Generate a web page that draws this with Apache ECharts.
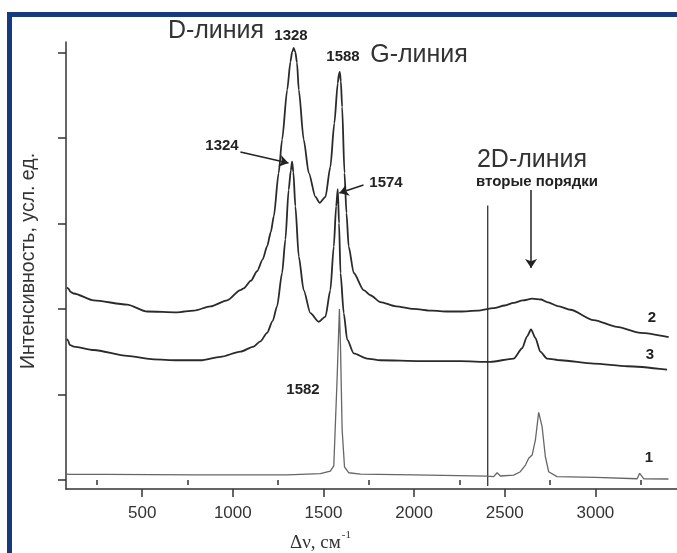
<!DOCTYPE html>
<html>
<head>
<meta charset="utf-8">
<script src="https://cdn.jsdelivr.net/npm/echarts@6/dist/echarts.min.js"></script>
<style>
html,body{margin:0;padding:0;background:#fff;}
#chart{width:677px;height:553px;}
</style>
</head>
<body>
<div id="chart"></div>
<script>
// ---- data (Raman shift, cm^-1 ; intensity, arb. units) ----
const shift1 = [85,90,100,300,800,1300,1483,1538,1557,1575,1588,1594,1603,1616,1639,1704,2000,2400,2439,2458,2476,2549,2586,2614,2632,2651,2669,2687,2706,2724,2742,2788,3000,3230,3244,3266,3403];
const intensity1 = [0.07,0.09,0.065,0.065,0.06,0.06,0.075,0.105,0.165,1.17,2.0,1.56,0.59,0.155,0.085,0.07,0.06,0.045,0.04,0.085,0.047,0.058,0.097,0.175,0.254,0.292,0.468,0.79,0.623,0.272,0.097,0.04,0.03,0.015,0.078,0.015,0.012];

const shift2 = [85,92,105,123,233,417,528,693,785,877,969,1042,1060,1100,1134,1165,1189,1210,1226,1253,1272,1300,1318,1327,1336,1345,1354,1364,1391,1419,1456,1479,1511,1538,1560,1579,1585,1590,1596,1603,1616,1627,1639,1667,1722,1759,1814,1900,1996,2100,2184,2255,2350,2439,2500,2549,2600,2651,2700,2733,2800,2862,2990,3119,3248,3404];
const intensity2 = [2.25,2.24,2.20,2.18,2.10,2.05,1.97,1.96,1.98,2.03,2.10,2.22,2.24,2.33,2.44,2.58,2.73,2.90,3.08,3.59,3.98,4.56,4.89,5.00,5.05,5.00,4.88,4.56,3.98,3.59,3.31,3.24,3.31,3.66,4.17,4.64,4.74,4.77,4.66,4.36,3.59,3.12,2.73,2.42,2.22,2.16,2.08,2.03,2.00,1.98,1.97,1.97,1.98,2.01,2.04,2.07,2.10,2.12,2.11,2.08,2.03,1.99,1.87,1.79,1.72,1.67];

const shift3 = [85,92,100,123,233,417,564,693,822,932,1042,1115,1152,1189,1220,1244,1272,1290,1308,1320,1327,1334,1345,1364,1391,1428,1474,1511,1538,1557,1570,1579,1586,1594,1612,1631,1667,1741,1814,2035,2255,2420,2549,2596,2623,2645,2669,2696,2733,2808,2990,3175,3395];
const intensity3 = [1.65,1.63,1.58,1.56,1.52,1.45,1.41,1.40,1.40,1.44,1.50,1.56,1.62,1.72,1.86,2.03,2.42,2.81,3.39,3.62,3.72,3.60,3.20,2.61,2.22,1.95,1.85,1.91,2.22,2.73,3.20,3.40,3.00,2.42,1.95,1.64,1.48,1.42,1.40,1.39,1.39,1.38,1.42,1.54,1.68,1.76,1.66,1.50,1.42,1.40,1.36,1.33,1.29];

const separatorShift = 2406;
const separatorRange = [-0.07, 3.21];

const xMajorValues = [500,1000,1500,2000,2500,3000];
const xMinorValues = [250,750,1250,1750,2250,2750,3250];
const yTickValues = [0,1,2,3,4,5];

function pairs(xs, ys){ return xs.map((x,i)=>[x, ys[i]]); }

const chart = echarts.init(document.getElementById('chart'), null, {renderer:'canvas'});
const axisColor = '#333';
const txt = (x, y, text, size, bold, extra) => Object.assign({
  type: 'text', x: x, y: y,
  style: {text: text, fontFamily: 'Liberation Sans, Arial', fontSize: size, fontWeight: bold ? 'bold' : 'normal',
          fill: bold ? '#222' : '#333', align: 'center', verticalAlign: 'middle'}
}, extra || {});
const option = {
  animation: false,
  backgroundColor: '#fff',
  grid: {left: 66, right: 0, top: 42, bottom: 64, containLabel: false},
  xAxis: [{
    type: 'value', min: 80, max: 3450,
    axisLine: {show: true, onZero: false, lineStyle: {color: axisColor, width: 1.5}},
    axisTick: {show: true, customValues: xMajorValues, length: 8, inside: false, lineStyle: {color: axisColor, width: 1.5}},
    axisLabel: {show: true, customValues: xMajorValues, margin: 16, formatter: v => String(v),
                fontFamily: 'Liberation Sans, Arial', fontSize: 17, color: '#333'},
    splitLine: {show: false}
  },{
    type: 'value', min: 80, max: 3450, position: 'bottom',
    axisLine: {show: false},
    axisTick: {show: true, customValues: xMinorValues, length: 5, inside: false, lineStyle: {color: axisColor, width: 1.5}},
    axisLabel: {show: false},
    splitLine: {show: false}
  }],
  yAxis: {
    type: 'value', min: -0.105, max: 5.12,
    axisLine: {show: true, onZero: false, lineStyle: {color: axisColor, width: 1.5}},
    axisTick: {show: true, customValues: yTickValues, length: 8, inside: false, lineStyle: {color: axisColor, width: 1.5}},
    axisLabel: {show: false},
    splitLine: {show: false}
  },
  series: [
    {type: 'line', name: '1', data: pairs(shift1, intensity1), showSymbol: false, symbol: 'none',
     lineStyle: {color: '#666', width: 1.3}, z: 3},
    {type: 'line', name: '2', data: pairs(shift2, intensity2), showSymbol: false, symbol: 'none',
     smooth: 0.25, smoothMonotone: 'x',
     lineStyle: {color: '#2a2a2a', width: 1.8}, z: 3},
    {type: 'line', name: '3', data: pairs(shift3, intensity3), showSymbol: false, symbol: 'none',
     smooth: 0.25, smoothMonotone: 'x',
     lineStyle: {color: '#2a2a2a', width: 1.8}, z: 3},
    {type: 'line', name: 'sep', data: separatorRange.map(v => [separatorShift, v]), showSymbol: false, symbol: 'none',
     lineStyle: {color: '#333', width: 1.3}, z: 2,
     markLine: {
       silent: true, symbol: ['none', 'arrow'], symbolSize: 9,
       label: {show: false},
       lineStyle: {color: '#222', width: 1.5, type: 'solid'},
       data: [
         [{coord: [1042, 3.834]}, {coord: [1307, 3.706]}],
         [{coord: [1721, 3.449]}, {coord: [1588, 3.355]}],
         [{coord: [2645, 3.39]}, {coord: [2645, 2.478]}]
       ]
     }}
  ],
  graphic: [
    {type: 'rect', shape: {x: 7, y: 12, width: 670, height: 5}, style: {fill: '#163a7e'}, z: 100},
    {type: 'rect', shape: {x: 7, y: 12, width: 5, height: 541}, style: {fill: '#163a7e'}, z: 100},
    txt(216, 31, 'D-линия', 25, false),
    txt(291, 36, '1328', 15, true),
    txt(343, 57, '1588', 15, true),
    txt(419, 55, 'G-линия', 25, false),
    txt(222, 146, '1324', 15, true),
    txt(386, 183, '1574', 15, true),
    txt(532, 160, '2D-линия', 25, false),
    txt(537, 182, 'вторые порядки', 15, true),
    txt(303, 390, '1582', 15, true),
    txt(649, 458, '1', 15, true),
    txt(652, 318, '2', 15, true),
    txt(650, 355, '3', 15, true),
    txt(29, 261, 'Интенсивность, усл. ед.', 19.5, false, {rotation: Math.PI / 2}),
    {type: 'text', x: 290, y: 541, style: {
      text: '{a|Δν, см}{s|-1}', verticalAlign: 'middle', align: 'left',
      rich: {
        a: {fontFamily: 'Liberation Serif, Times New Roman', fontSize: 19, fill: '#333', verticalAlign: 'bottom'},
        s: {fontFamily: 'Liberation Serif, Times New Roman', fontSize: 11, fill: '#333', verticalAlign: 'top', padding: [0,0,12,1]}
      }}}
  ]
};
chart.setOption(option);
</script>
</body>
</html>
